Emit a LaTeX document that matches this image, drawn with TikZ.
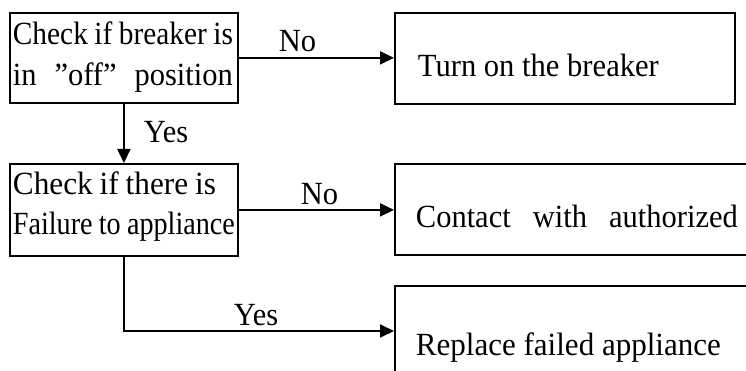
\documentclass[tikz,border=0pt]{standalone}
\usepackage{fontspec}
\setmainfont{Liberation Serif}
\usetikzlibrary{arrows.meta}
\newlength\natw
\newcommand\fitto[2]{{\spaceskip=0.22em\settowidth\natw{#2}\pgfmathsetmacro\fitfac{(#1)/\natw}\scalebox{\fitfac}[1.06]{#2}}}
\newcommand\fitn[2]{\settowidth\natw{#2}\pgfmathsetmacro\fitfac{(#1)/\natw}\scalebox{\fitfac}[1.06]{#2}}
\newcommand\spreadto[2]{\scalebox{1}[1.06]{\makebox[#1][s]{#2}}}
\newcommand\tall[1]{\scalebox{1}[1.06]{#1}}
\begin{document}
\begin{tikzpicture}[x=1pt,y=-1pt, line width=1.8pt,
  box/.style={draw, rectangle, inner sep=0pt, anchor=north west},
  txt/.style={anchor=base west, inner sep=0pt, font=\fontsize{30.5}{36}\selectfont},
  arr/.style={-{Triangle[length=14pt,width=13pt]}}]
\clip (0,0) rectangle (746,371);
\fill[white] (0,0) rectangle (746,371);
\node[box, minimum width=228pt, minimum height=90pt] (b1) at (9,12) {};
\node[box, minimum width=340pt, minimum height=91pt] (b2) at (394,12) {};
\node[box, minimum width=228pt, minimum height=92pt] (b3) at (9,163) {};
\node[box, minimum width=400pt, minimum height=91pt] (b4) at (394,163) {};
\node[box, minimum width=400pt, minimum height=150pt] (b5) at (394,285) {};
\node[txt] (t1a) at (12,45) {\fitto{220pt}{Check if breaker is}};
\node[txt] (t1b) at (12,86) {\spreadto{220pt}{in ”off” position}};
\node[txt] (t2) at (417,77) {\fitn{241pt}{Turn on the breaker}};
\node[txt] (t3a) at (12,195) {\fitto{203pt}{Check if there is}};
\node[txt] (t3b) at (12,235) {\fitto{222pt}{Failure to appliance}};
\node[txt] (t4) at (415,228) {\spreadto{322pt}{Contact with authorized}};
\node[txt] (t5) at (415,355) {\fitn{305pt}{Replace failed appliance}};
\node[txt] (l1) at (278,52) {\tall{No}};
\node[txt] (l2) at (143,143) {\tall{Yes}};
\node[txt] (l3) at (300,205) {\tall{No}};
\node[txt] (l4) at (233,325) {\tall{Yes}};
\coordinate (c5) at (394,331);
\draw[arr] (b1.east) -- (b1.east -| b2.west);
\draw[arr] (b1.south) -- (b3.north);
\draw[arr] (b3.east) -- (b3.east -| b4.west);
\draw[arr] (b3.south) |- (c5);
\end{tikzpicture}
\end{document}
